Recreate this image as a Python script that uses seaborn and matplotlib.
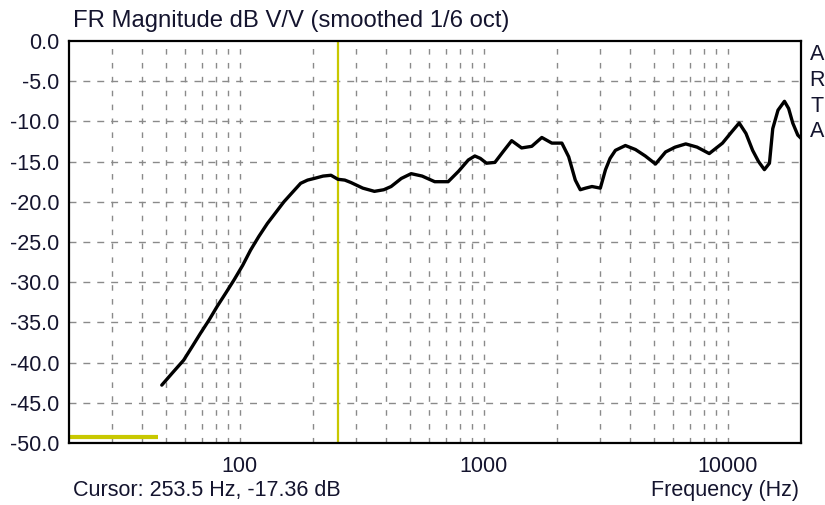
import numpy as np
import pandas as pd
import matplotlib
matplotlib.use("Agg")
import matplotlib.pyplot as plt
import seaborn as sns

# ---- data ----
freq_hz = [48, 53, 59, 64, 69, 75, 81, 88, 95, 103, 111, 120, 130, 141, 152, 165, 178,
           190, 202, 220, 237, 253, 270, 286, 320, 357, 390, 418, 460, 505, 560, 631,
           716, 790, 866, 921, 970, 1028, 1113, 1200, 1304, 1432, 1576, 1733, 1905,
           2094, 2233, 2377, 2491, 2620, 2782, 3010, 3161, 3300, 3471, 3813, 4194,
           4600, 5068, 5573, 6100, 6740, 7500, 8413, 9535, 10400, 11160, 11900, 12670,
           13400, 14160, 14850, 15320, 16100, 17110, 17800, 18500, 19400, 20000]
mag_db = [-42.8, -41.3, -39.7, -38.0, -36.4, -34.7, -33.0, -31.3, -29.7, -27.9, -26.0,
          -24.3, -22.7, -21.3, -20.0, -18.8, -17.7, -17.3, -17.1, -16.8, -16.7, -17.2,
          -17.3, -17.6, -18.3, -18.7, -18.5, -18.1, -17.1, -16.5, -16.8, -17.5, -17.5,
          -16.2, -14.8, -14.3, -14.6, -15.2, -15.1, -13.8, -12.4, -13.3, -13.1, -12.0,
          -12.7, -12.7, -14.4, -17.3, -18.5, -18.3, -18.1, -18.3, -16.0, -14.6, -13.6,
          -13.0, -13.5, -14.3, -15.3, -13.8, -13.2, -12.8, -13.2, -14.0, -12.7, -11.3,
          -10.2, -11.5, -13.6, -15.0, -16.0, -15.2, -10.9, -8.6, -7.5, -8.4, -10.2,
          -11.7, -12.1]

cursor_freq = 253.5
marker_freq_end = 46.4
marker_level = -49.3

y_ticks = [0, -5, -10, -15, -20, -25, -30, -35, -40, -45, -50]
x_tick_vals = [100, 1000, 10000]
x_tick_labels = ["100", "1000", "10000"]

title_text = "FR Magnitude dB V/V (smoothed 1/6 oct)"
cursor_text = "Cursor: 253.5 Hz, -17.36 dB"
xlabel_text = "Frequency (Hz)"
brand_letters = ["A", "R", "T", "A"]

# ---- styling ----
sns.set_style("white")
plt.rcParams["font.family"] = ["Liberation Sans", "DejaVu Sans"]
text_color = "#14142e"
fs = 15.5
yellow = "#c8c800"

W, H = 825, 505
fig = plt.figure(figsize=(W / 100, H / 100), dpi=100)
ax = fig.add_axes([69 / W, 1 - 443 / H, (801 - 69) / W, (443 - 41) / H])

df = pd.DataFrame({"freq": freq_hz, "mag": mag_db})

# grid
grid_kw = dict(color="#8a8a8a", lw=1.0, zorder=0)
for yv in y_ticks[1:-1]:
    ax.axhline(yv, ls=(0, (5, 5)), **grid_kw)
minor_x = [m * 10 ** e for e in range(1, 5) for m in range(1, 10)]
for xv in minor_x:
    if 20 < xv < 20000:
        ax.axvline(xv, ls=(0, (4, 6)), **grid_kw)

# cursor + marker
ax.axvline(cursor_freq, color=yellow, lw=1.6, zorder=2)
ax.plot([20, marker_freq_end], [marker_level, marker_level], color=yellow, lw=3.0,
        solid_capstyle="butt", zorder=2)

sns.lineplot(data=df, x="freq", y="mag", ax=ax, color="black", lw=2.4,
             sort=False, estimator=None, zorder=3)

ax.set_xscale("log")
ax.set_xlim(20, 20000)
ax.set_ylim(-50, 0)
ax.set_xticks(x_tick_vals)
ax.set_xticklabels(x_tick_labels)
ax.xaxis.set_minor_locator(matplotlib.ticker.NullLocator())
ax.set_yticks(y_ticks)
ax.set_yticklabels([f"{v:.1f}" for v in y_ticks])
ax.tick_params(axis="both", length=0, labelsize=fs, colors=text_color)
ax.tick_params(axis="y", pad=7)
ax.tick_params(axis="x", pad=9)
ax.set_xlabel("")
ax.set_ylabel("")
for s in ax.spines.values():
    s.set_visible(True)
    s.set_color("black")
    s.set_linewidth(1.6)

fig.text(73 / W, 1 - 27 / H, title_text, fontsize=17.2, color=text_color,
         ha="left", va="baseline")
fig.text(73 / W, 1 - 496 / H, cursor_text, fontsize=fs, color=text_color,
         ha="left", va="baseline")
fig.text(799 / W, 1 - 496 / H, xlabel_text, fontsize=fs, color=text_color,
         ha="right", va="baseline")
for i, ch in enumerate(brand_letters):
    fig.text(817 / W, 1 - (55 + i * 25.5) / H, ch, fontsize=fs, color=text_color,
             ha="center", va="center")

fig.savefig("out.png", dpi=100, facecolor="white")
